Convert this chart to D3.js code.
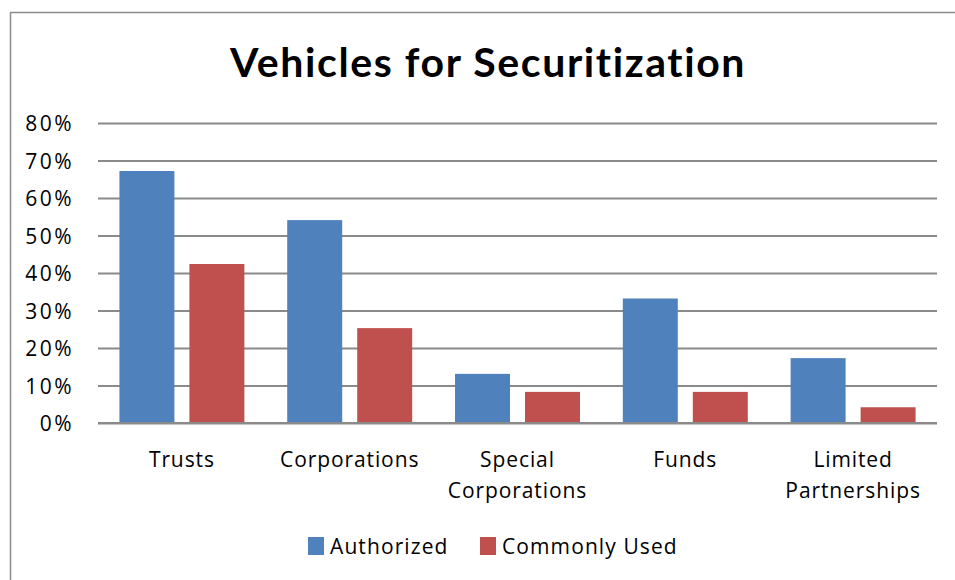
<!DOCTYPE html>
<html>
<head>
<meta charset="utf-8">
<script src="https://cdn.jsdelivr.net/npm/d3@7"></script>
<style>
  body { margin: 0; background: #fff; }
  text { font-family: "Open Sans", sans-serif; fill: #000; }
</style>
</head>
<body>
<script>
let width = 955;
let height = 580;

const categories = [['Trusts'], ['Corporations'], ['Special', 'Corporations'], ['Funds'], ['Limited', 'Partnerships']];
const seriesNames = ['Authorized', 'Commonly Used'];
const authorized = [67.2, 54.1, 13.1, 33.2, 17.3];
const commonlyUsed = [42.4, 25.3, 8.3, 8.3, 4.2];
const yTicks = [0, 10, 20, 30, 40, 50, 60, 70, 80];
const colors = ['#4f81bd', '#c0504d'];

let svg = d3.select('body').append('svg')
	.attr('width', width)
	.attr('height', height);

// chart frame (runs off right and bottom edges)
svg.append('rect')
	.attr('x', 10.5)
	.attr('y', 12.5)
	.attr('width', 960)
	.attr('height', 600)
	.style('fill', 'none')
	.style('stroke', '#8c8c8c')
	.style('stroke-width', 1.5);

svg.append('text')
	.attr('x', 488)
	.attr('y', 77)
	.attr('text-anchor', 'middle')
	.style('font-family', 'Lato, sans-serif')
	.style('font-size', '41px')
	.style('font-weight', 'bold')
	.style('letter-spacing', '1.6px')
	.text('Vehicles for Securitization');

let plotLeft = 98, plotRight = 937, plotTop = 123, plotBottom = 423;

let x = d3.scaleBand()
	.domain(d3.range(categories.length))
	.range([plotLeft, plotRight]);

let xInner = d3.scaleBand()
	.domain(seriesNames)
	.range([0, x.bandwidth()])
	.paddingInner(15 / 70)
	.paddingOuter(0.306);

let y = d3.scaleLinear()
	.domain([0, 80])
	.range([plotBottom, plotTop]);

// gridlines + tick labels
let yAxis = d3.axisLeft(y)
	.tickValues(yTicks)
	.tickSize(-(plotRight - plotLeft))
	.tickFormat(d => d + '%');

let ga = svg.append('g')
	.attr('transform', 'translate(' + plotLeft + ',0)')
	.call(yAxis);
ga.select('.domain').remove();
ga.selectAll('.tick line')
	.style('stroke', '#8a8a8a')
	.style('stroke-width', 2);
ga.selectAll('.tick text')
	.attr('x', -24)
	.attr('dy', '0.36em')
	.style('font-size', '21px')
	.style('letter-spacing', '2.5px')
	.style('font-family', '"Open Sans", sans-serif')
	.attr('fill', '#000');

let rows = categories.map((c, i) => ({ i: i, vals: [authorized[i], commonlyUsed[i]] }));

let groups = svg.selectAll('.cat')
	.data(rows)
	.enter().append('g')
	.attr('class', 'cat')
	.attr('transform', d => 'translate(' + x(d.i) + ',0)');

groups.selectAll('rect')
	.data(d => d.vals.map((v, k) => ({ k: k, v: v })))
	.enter().append('rect')
	.attr('x', d => xInner(seriesNames[d.k]))
	.attr('width', xInner.bandwidth())
	.attr('y', d => y(d.v))
	.attr('height', d => plotBottom - y(d.v))
	.style('fill', d => colors[d.k]);

// baseline
svg.append('line')
	.attr('x1', plotLeft).attr('x2', plotRight)
	.attr('y1', plotBottom).attr('y2', plotBottom)
	.style('stroke', '#8a8a8a')
	.style('stroke-width', 2);

// category labels
categories.forEach((lines, i) => {
	let t = svg.append('text')
		.attr('text-anchor', 'middle')
		.style('font-size', '21px')
		.style('letter-spacing', '0.9px');
	lines.forEach((ln, j) => {
		t.append('tspan')
			.attr('x', x(i) + x.bandwidth() / 2)
			.attr('y', 467 + j * 31)
			.text(ln);
	});
});

// legend
let legendX = [308, 480];
seriesNames.forEach((name, k) => {
	svg.append('rect')
		.attr('x', legendX[k])
		.attr('y', 537)
		.attr('width', 16)
		.attr('height', 18)
		.style('fill', colors[k]);
	svg.append('text')
		.attr('x', legendX[k] + 22)
		.attr('y', 554)
		.style('font-size', '21px')
		.style('letter-spacing', '1.1px')
		.text(name);
});
</script>
</body>
</html>
